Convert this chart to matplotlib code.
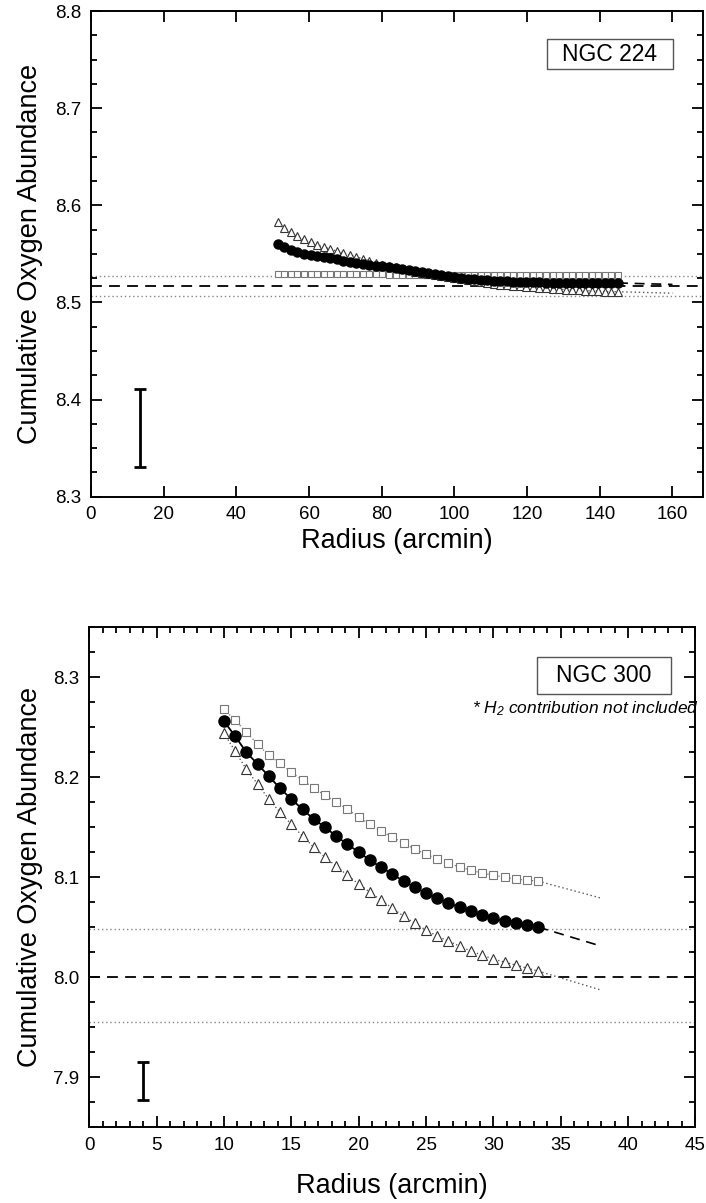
import matplotlib
matplotlib.use("Agg")
import matplotlib.pyplot as plt
from matplotlib.patches import Rectangle
from matplotlib.ticker import MultipleLocator, NullLocator, FormatStrFormatter

plt.rcParams['font.family'] = ['Liberation Sans', 'DejaVu Sans']
plt.rcParams['mathtext.fontset'] = 'custom'
plt.rcParams['mathtext.it'] = 'Liberation Sans:italic'
plt.rcParams['mathtext.rm'] = 'Liberation Sans:italic'

# ---- NGC 224 (top panel) ----
r224 = [51.4, 53.2, 55.0, 56.8, 58.6, 60.4, 62.2, 64.0, 65.8, 67.6, 69.4, 71.2, 73.0,
        74.8, 76.6, 78.4, 80.2, 82.0, 83.8, 85.6, 87.4, 89.2, 91.0, 92.8, 94.6, 96.4,
        98.2, 100.0, 101.8, 103.6, 105.4, 107.2, 109.0, 110.8, 112.6, 114.4, 116.2,
        118.0, 119.8, 121.6, 123.4, 125.2, 127.0, 128.8, 130.6, 132.4, 134.2, 136.0,
        137.8, 139.6, 141.4, 143.2, 145.0]
circ224 = [8.560, 8.557, 8.554, 8.552, 8.550, 8.549, 8.548, 8.547, 8.546, 8.545, 8.543,
           8.542, 8.541, 8.540, 8.539, 8.538, 8.537, 8.536, 8.535, 8.534, 8.533, 8.532,
           8.531, 8.530, 8.529, 8.528, 8.527, 8.526, 8.525, 8.524, 8.524, 8.523, 8.523,
           8.522, 8.522, 8.522, 8.521, 8.521, 8.521, 8.521, 8.521, 8.520, 8.520, 8.520,
           8.520, 8.520, 8.520, 8.520, 8.520, 8.520, 8.520, 8.520, 8.520]
tri224 = [8.583, 8.577, 8.572, 8.568, 8.565, 8.562, 8.559, 8.557, 8.555, 8.553, 8.551,
          8.549, 8.547, 8.545, 8.543, 8.541, 8.539, 8.537, 8.536, 8.534, 8.533, 8.531,
          8.530, 8.529, 8.528, 8.527, 8.526, 8.525, 8.524, 8.523, 8.522, 8.521, 8.520,
          8.519, 8.518, 8.518, 8.517, 8.517, 8.516, 8.516, 8.515, 8.515, 8.514, 8.514,
          8.513, 8.513, 8.513, 8.512, 8.512, 8.512, 8.511, 8.511, 8.511]
sq224 = [8.5295, 8.5295, 8.5295, 8.5295, 8.5295, 8.5295, 8.5294, 8.5294, 8.5293, 8.5293,
         8.5292, 8.5292, 8.5291, 8.5290, 8.5290, 8.5289, 8.5288, 8.5287, 8.5286, 8.5285,
         8.5284, 8.5283, 8.5282, 8.5281, 8.5280, 8.5280, 8.5279, 8.5278, 8.5278, 8.5278,
         8.5278, 8.5278, 8.5278, 8.5279, 8.5279, 8.5279, 8.5279, 8.5280, 8.5280, 8.5280,
         8.5280, 8.5280, 8.5280, 8.5280, 8.5280, 8.5280, 8.5280, 8.5280, 8.5280, 8.5280,
         8.5280, 8.5280, 8.5280]
ext224_x = [145.0, 160.0]
ext224_circ = [8.520, 8.5185]
ext224_tri = [8.511, 8.5095]
mean224 = 8.517
band224 = [8.527, 8.507]
err224_x, err224_y, err224_e = 13.5, 8.371, 0.040

# ---- NGC 300 (bottom panel) ----
r300 = [10.0, 10.83, 11.66, 12.5, 13.33, 14.16, 15.0, 15.83, 16.66, 17.5, 18.33, 19.16,
        20.0, 20.83, 21.66, 22.5, 23.33, 24.16, 25.0, 25.83, 26.66, 27.5, 28.33, 29.16,
        30.0, 30.83, 31.66, 32.5, 33.33]
circ300 = [8.256, 8.241, 8.225, 8.213, 8.201, 8.189, 8.178, 8.168, 8.158, 8.150, 8.141,
           8.133, 8.125, 8.117, 8.110, 8.103, 8.096, 8.090, 8.084, 8.079, 8.074, 8.070,
           8.066, 8.062, 8.059, 8.056, 8.054, 8.052, 8.050]
sq300 = [8.268, 8.257, 8.245, 8.233, 8.222, 8.214, 8.205, 8.197, 8.189, 8.182, 8.175,
         8.168, 8.160, 8.153, 8.146, 8.140, 8.134, 8.128, 8.123, 8.118, 8.114, 8.110,
         8.107, 8.104, 8.102, 8.100, 8.098, 8.097, 8.096]
tri300 = [8.244, 8.226, 8.208, 8.193, 8.178, 8.165, 8.153, 8.141, 8.130, 8.120, 8.111,
          8.102, 8.093, 8.085, 8.077, 8.069, 8.061, 8.054, 8.047, 8.041, 8.036, 8.031,
          8.026, 8.022, 8.018, 8.015, 8.012, 8.009, 8.006]
ext300_x = [33.33, 38.0]
ext300_circ = [8.050, 8.031]
ext300_sq = [8.096, 8.079]
ext300_tri = [8.006, 7.987]
mean300 = 8.000
band300 = [8.048, 7.955]
err300_x, err300_y, err300_e = 4.0, 7.896, 0.019

W, H = 706, 1203
fig = plt.figure(figsize=(W / 100, H / 100), dpi=100)


def frac(left, top, right, bottom):
    return [left / W, 1 - bottom / H, (right - left) / W, (bottom - top) / H]


def style_axes(ax):
    for s in ax.spines.values():
        s.set_linewidth(1.4)
    ax.tick_params(which='both', direction='in', top=True, right=True,
                   labelsize=13.5, width=1.3, pad=7)
    ax.tick_params(which='major', length=8)
    ax.tick_params(which='minor', length=4.5)


def draw_panel(ax, x, circ, tri, sq, ext_x, ext_c, ext_t, ext_s, mean, band, err, ms):
    for b in band:
        ax.axhline(b, color='#888888', lw=1.0, ls=(0, (1, 2)), zorder=1)
    ax.axhline(mean, color='black', lw=1.3, ls=(0, (6, 4)), zorder=1)
    ax.plot(ext_x, ext_c, color='black', lw=1.2, ls=(0, (6, 4)), zorder=2)
    ax.plot(ext_x, ext_t, color='#555555', lw=1.0, ls=(0, (1, 2)), zorder=2)
    if ext_s is not None:
        ax.plot(ext_x, ext_s, color='#555555', lw=1.0, ls=(0, (1, 2)), zorder=2)
    ax.plot(x, sq, color='#777777', lw=0.9, ls=(0, (1, 2)), marker='s', ms=ms * 0.65,
            mfc='white', mec='#777777', mew=0.8, zorder=3)
    ax.plot(x, tri, color='#444444', lw=0.9, ls=(0, (1, 2)), marker='^', ms=ms * 0.85,
            mfc='white', mec='#333333', mew=0.8, zorder=4)
    ax.plot(x, circ, color='black', lw=1.3, marker='o', ms=ms, mfc='black',
            mec='black', zorder=5)
    ex, ey, ee = err
    ax.errorbar([ex], [ey], yerr=[ee], fmt='none', ecolor='black', elinewidth=2.0,
                capsize=4, capthick=2.0, zorder=6)


# top panel
ax1 = fig.add_axes(frac(91, 11, 703, 496.7))
draw_panel(ax1, r224, circ224, tri224, sq224, ext224_x, ext224_circ, ext224_tri, None,
           mean224, band224, (err224_x, err224_y, err224_e), 6.5)
ax1.set_xlim(0, 168.4)
ax1.set_ylim(8.3, 8.8)
ax1.xaxis.set_major_locator(MultipleLocator(20))
ax1.xaxis.set_minor_locator(NullLocator())
ax1.yaxis.set_major_locator(MultipleLocator(0.1))
ax1.yaxis.set_minor_locator(MultipleLocator(0.025))
ax1.yaxis.set_major_formatter(FormatStrFormatter('%.1f'))
style_axes(ax1)

# bottom panel
ax2 = fig.add_axes(frac(89.3, 627.3, 695.4, 1127))
draw_panel(ax2, r300, circ300, tri300, sq300, ext300_x, ext300_circ, ext300_tri,
           ext300_sq, mean300, band300, (err300_x, err300_y, err300_e), 8)
ax2.set_xlim(0, 45)
ax2.set_ylim(7.85, 8.35)
ax2.xaxis.set_major_locator(MultipleLocator(5))
ax2.xaxis.set_minor_locator(MultipleLocator(1))
ax2.yaxis.set_major_locator(MultipleLocator(0.1))
ax2.yaxis.set_minor_locator(MultipleLocator(0.025))
ax2.yaxis.set_major_formatter(FormatStrFormatter('%.1f'))
style_axes(ax2)

# axis labels
lab = dict(fontsize=19.5, ha='center', va='center')
fig.text(30 / W, 1 - 253.8 / H, 'Cumulative Oxygen Abundance', rotation=90, **lab)
fig.text(30 / W, 1 - 877 / H, 'Cumulative Oxygen Abundance', rotation=90, **lab)
fig.text(397 / W, 1 - 541 / H, 'Radius (arcmin)', **lab)
fig.text(392 / W, 1 - 1186 / H, 'Radius (arcmin)', **lab)

# name boxes
for (l, t, r, b), name in [((547, 39, 673, 69.3), 'NGC 224'), ((537, 657, 671, 694), 'NGC 300')]:
    fig.patches.append(Rectangle((l / W, 1 - b / H), (r - l) / W, (b - t) / H,
                                 transform=fig.transFigure, fill=False,
                                 edgecolor='#555555', lw=1.0))
    fig.text((l + r) / 2 / W, 1 - (t + b) / 2 / H, name, fontsize=16.5,
             ha='center', va='center')

fig.text(699 / W, 1 - 709 / H, r'* $\mathit{H_2}$ contribution not included',
         fontsize=12.5, style='italic', ha='right', va='center')

fig.savefig('out.png', dpi=100)
